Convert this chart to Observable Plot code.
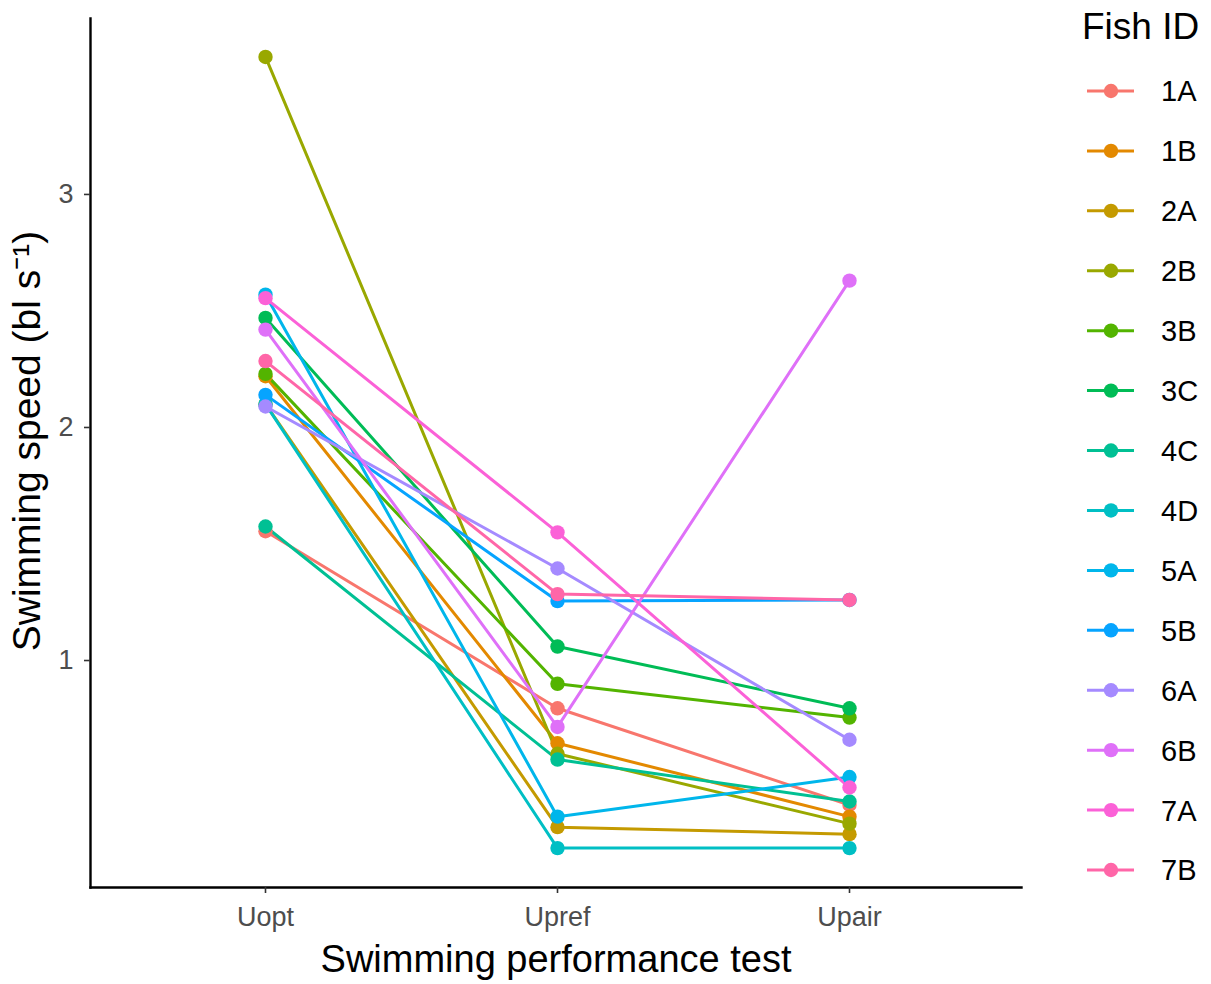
<!DOCTYPE html>
<html>
<head>
<meta charset="utf-8">
<script src="https://cdn.jsdelivr.net/npm/d3@7"></script>
<script src="https://cdn.jsdelivr.net/npm/@observablehq/plot@0.6"></script>
<style>
  html, body { margin: 0; padding: 0; background: #fff; }
  #wrap { position: relative; width: 1211px; height: 984px; font-family: "Liberation Sans", Arial, sans-serif; }
  #legend { position: absolute; left: 0; top: 0; }
</style>
</head>
<body>
<div id="wrap"></div>
<script>
const tests = ["Uopt", "Upref", "Upair"];
const fishIds = ["1A","1B","2A","2B","3B","3C","4C","4D","5A","5B","6A","6B","7A","7B"];
const uopt  = [1.555, 2.22, 2.10, 3.59, 2.23, 2.47, 1.575, 2.10, 2.57, 2.14, 2.09, 2.42, 2.555, 2.285];
const upref = [0.795, 0.645, 0.285, 0.60, 0.90, 1.06, 0.575, 0.195, 0.33, 1.255, 1.395, 0.715, 1.55, 1.285];
const upair = [0.38, 0.33, 0.255, 0.30, 0.755, 0.795, 0.395, 0.195, 0.50, 1.26, 0.66, 2.63, 0.455, 1.26];
const colors = ["#F8766D","#E38900","#C49A00","#99A800","#53B400","#00BC56","#00C094","#00BFC4","#00B6EB","#06A4FF","#A58AFF","#DF70F8","#FB61D7","#FF66A8"];
const yTicks = [1, 2, 3];
const yLabel = "Swimming speed (bl s\u207B\u00B9)";
const xLabel = "Swimming performance test";
const legendTitle = "Fish ID";

const series = [uopt, upref, upair];
const data = [];
fishIds.forEach((id, i) => {
  tests.forEach((t, j) => data.push({fish: id, test: t, speed: series[j][i]}));
});
const pointData = [];
tests.forEach((t, j) => fishIds.forEach((id, i) => pointData.push({fish: id, test: t, speed: series[j][i]})));
pointData.sort((a, b) => fishIds.indexOf(a.fish) - fishIds.indexOf(b.fish));

const font = "'Liberation Sans', Arial, sans-serif";

const chart = Plot.plot({
  width: 1211,
  height: 984,
  marginLeft: 90,
  marginRight: 190,
  marginTop: 18,
  marginBottom: 97,
  style: {fontFamily: font, background: "#fff"},
  x: {type: "point", domain: tests, range: [265, 849], padding: 0, label: null},
  y: {domain: [0.026, 3.755], label: null},
  color: {domain: fishIds, range: colors},
  marks: [
    Plot.line(data, {x: "test", y: "speed", z: "fish", stroke: "fish", strokeWidth: 3}),
    Plot.dot(pointData, {x: "test", y: "speed", fill: "fish", r: 7.2, stroke: null}),
    Plot.frame({anchor: "left", stroke: "#000", strokeWidth: 2.4}),
    Plot.frame({anchor: "bottom", stroke: "#000", strokeWidth: 2.4}),
    Plot.axisY({ticks: yTicks, tickFormat: d => String(d), tickSize: 6, tickPadding: 11, fontSize: 27, color: "#4D4D4D", stroke: "#333", strokeWidth: 1.6, label: null}),
    Plot.axisX({tickSize: 6, tickPadding: 13, fontSize: 27, color: "#4D4D4D", stroke: "#333", strokeWidth: 1.6, label: null}),
    Plot.text([yLabel], {frameAnchor: "left", rotate: -90, dx: -63, dy: -12, fontSize: 39, fill: "#000", textAnchor: "middle"}),
    Plot.text([xLabel], {frameAnchor: "bottom", dy: 84, fontSize: 38, fill: "#000"})
  ]
});
document.getElementById("wrap").appendChild(chart);

// legend
const svg = d3.select("#wrap").append("svg")
  .attr("id", "legend")
  .attr("width", 1211).attr("height", 984)
  .style("pointer-events", "none");
svg.append("text").attr("x", 1082).attr("y", 39)
  .attr("font-family", font).attr("font-size", 37).attr("fill", "#000").text(legendTitle);
const step = (870 - 91) / (fishIds.length - 1);
fishIds.forEach((id, i) => {
  const y = 91 + i * step;
  const g = svg.append("g");
  g.append("line").attr("x1", 1087).attr("x2", 1134).attr("y1", y).attr("y2", y)
    .attr("stroke", colors[i]).attr("stroke-width", 3);
  g.append("circle").attr("cx", 1111).attr("cy", y).attr("r", 7.2).attr("fill", colors[i]);
  g.append("text").attr("x", 1161).attr("y", y).attr("dy", "0.36em")
    .attr("font-family", font).attr("font-size", 29).attr("fill", "#000").text(id);
});
</script>
</body>
</html>
